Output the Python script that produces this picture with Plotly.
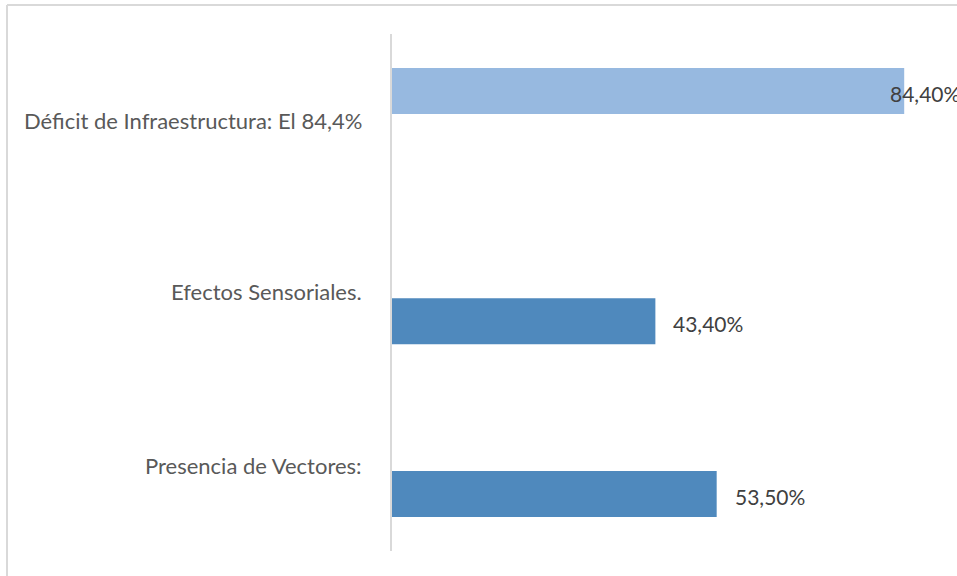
import plotly.graph_objects as go

# data
categories = ["Déficit de Infraestructura: El 84,4%", "Efectos Sensoriales.", "Presencia de Vectores:"]
values = [84.4, 43.4, 53.5]
value_labels = ["84,40%", "43,40%", "53,50%"]

# layout helpers (row slots, not data)
row_pos = [0, 4, 7]
bar_colors = ["#97B9E0", "#4F89BD", "#4F89BD"]
label_yshift = [-29, 30, 29]

W, H = 957, 576
L, R, T, B = 392, 0, 34, 25
x_max = 93.1

fig = go.Figure()
fig.add_trace(go.Bar(
    x=values,
    y=row_pos,
    orientation="h",
    width=0.8,
    marker=dict(color=bar_colors, line=dict(width=0)),
    hoverinfo="skip",
))

# category labels left of the axis
for cat, pos, dy in zip(categories, row_pos, label_yshift):
    fig.add_annotation(x=0, y=pos, xref="x", yref="y", text=cat, showarrow=False,
                       xanchor="right", xshift=-28, yshift=dy,
                       font=dict(family="Lato, sans-serif", size=22, color="#595959"))

# value labels; pushed back inside when too close to the right edge
for v, lab, pos in zip(values, value_labels, row_pos):
    shift = -16 if v > x_max - 12 else 16
    fig.add_annotation(x=v, y=pos, xref="x", yref="y", text=lab, showarrow=False,
                       xanchor="left", xshift=shift, yshift=-2,
                       font=dict(family="Lato, sans-serif", size=21, color="#404040"))

# outer frame (left and top edges visible in the crop)
pw, ph = W - L - R, H - T - B
fig.add_shape(type="line", xref="paper", yref="paper",
              x0=(7 - L) / pw, x1=(7 - L) / pw, y0=(H - B - 5) / ph, y1=-B / ph - 0.01,
              line=dict(color="#D9D9D9", width=2))
fig.add_shape(type="line", xref="paper", yref="paper",
              x0=(7 - L) / pw, x1=1.01, y0=(H - B - 5) / ph, y1=(H - B - 5) / ph,
              line=dict(color="#D9D9D9", width=2))

fig.update_layout(
    width=W, height=H,
    margin=dict(l=L, r=R, t=T, b=B),
    paper_bgcolor="white", plot_bgcolor="white",
    showlegend=False,
    xaxis=dict(range=[0, x_max], showgrid=False, zeroline=False, showticklabels=False, showline=False),
    yaxis=dict(range=[7.99, -0.99], showgrid=False, zeroline=False, showticklabels=False,
               showline=True, linecolor="#D9D9D9", linewidth=2, ticks=""),
)

fig.write_html("out.html", config={"displayModeBar": False},
               post_script="document.body.style.margin='0';")
